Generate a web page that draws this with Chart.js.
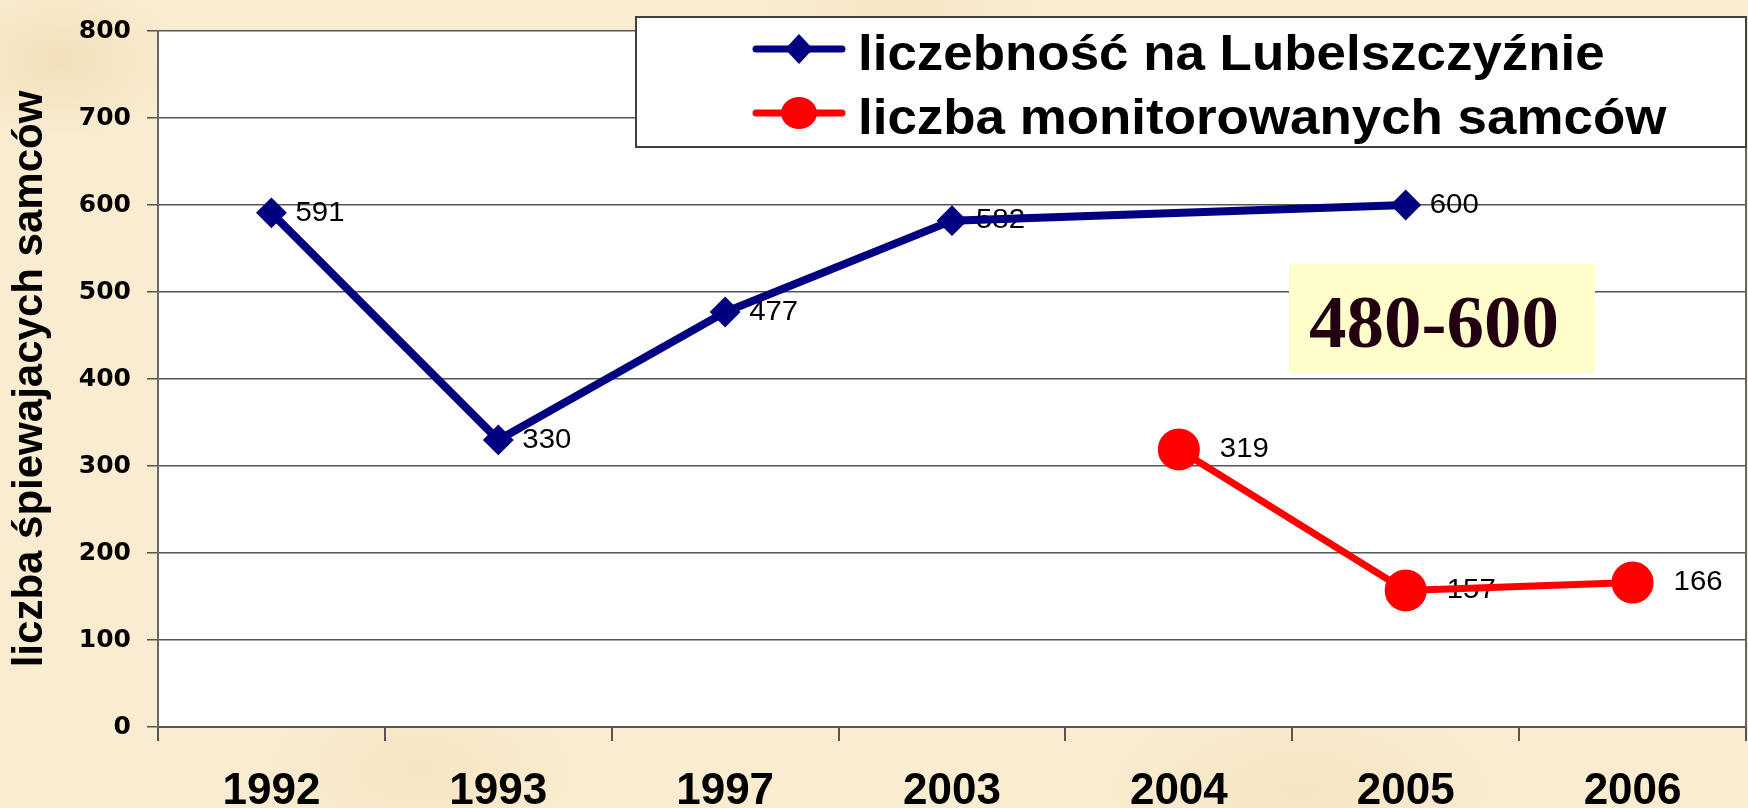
<!DOCTYPE html>
<html>
<head>
<meta charset="utf-8">
<script src="https://cdn.jsdelivr.net/npm/chart.js@4/dist/chart.umd.min.js"></script>
<style>
html, body { margin: 0; padding: 0; background: #F8EACC; }
#wrap { width: 1748px; height: 808px; position: relative;
  background:
    radial-gradient(ellipse 120px 80px at 60px 60px, rgba(236,214,168,0.55), rgba(236,214,168,0) 100%),
    radial-gradient(ellipse 160px 90px at 420px 770px, rgba(240,220,178,0.45), rgba(240,220,178,0) 100%),
    radial-gradient(ellipse 200px 100px at 1300px 790px, rgba(240,220,178,0.45), rgba(240,220,178,0) 100%),
    radial-gradient(ellipse 140px 90px at 900px 10px, rgba(240,220,178,0.4), rgba(240,220,178,0) 100%),
    #F9ECD0; }
canvas { display: block; }
</style>
</head>
<body>
<div id="wrap"><canvas id="c" width="1748" height="808"></canvas></div>
<script>
// ---- data ----
const categories = ['1992', '1993', '1997', '2003', '2004', '2005', '2006'];
const seriesLubelszczyzna = [591, 330, 477, 582, null, 600, null];
const seriesMonitored = [null, null, null, null, 319, 157, 166];
const seriesNames = ['liczebność na Lubelszczyźnie', 'liczba monitorowanych samców'];
const yTicks = [0, 100, 200, 300, 400, 500, 600, 700, 800];
const yTitle = 'liczba śpiewajacych samców';
const rangeNote = '480-600';

// ---- plugins ----
const plotBackground = {
  id: 'plotBackground',
  beforeDraw(chart) {
    const { ctx, chartArea: a } = chart;
    ctx.save();
    ctx.fillStyle = '#FFFFFF';
    ctx.fillRect(a.left, a.top, a.right - a.left, a.bottom - a.top);
    ctx.restore();
  }
};

const valueLabels = {
  id: 'valueLabels',
  beforeDatasetsDraw(chart) {
    const ctx = chart.ctx;
    ctx.save();
    ctx.font = '28px "Liberation Sans", Arial, sans-serif';
    ctx.fillStyle = '#000';
    ctx.textBaseline = 'middle';
    ctx.textAlign = 'left';
    chart.data.datasets.forEach((ds, i) => {
      const meta = chart.getDatasetMeta(i);
      meta.data.forEach((pt, j) => {
        const v = ds.data[j];
        if (v === null || v === undefined) return;
        ctx.save();
        ctx.translate(pt.x + ds.labelOffset, pt.y);
        ctx.scale(1.05, 1);
        ctx.fillText(String(v), 0, 0);
        ctx.restore();
      });
    });
    ctx.restore();
  }
};

const frameAndNotes = {
  id: 'frameAndNotes',
  afterDraw(chart) {
    const { ctx, chartArea: a } = chart;
    ctx.save();
    // right border of plot area
    ctx.strokeStyle = '#666';
    ctx.lineWidth = 2;
    ctx.beginPath();
    ctx.moveTo(a.right, a.top);
    ctx.lineTo(a.right, a.bottom);
    ctx.stroke();

    // range note box
    ctx.fillStyle = '#FFFFCC';
    ctx.fillRect(1289, 264, 306, 109);
    ctx.fillStyle = '#220011';
    ctx.font = 'bold 75px "Liberation Serif", "Times New Roman", serif';
    ctx.textBaseline = 'alphabetic';
    ctx.textAlign = 'left';
    ctx.fillText(rangeNote, 1309, 347);

    // legend box
    const L = 636, T = 17, R = a.right, B = 147;
    ctx.fillStyle = '#FFFFFF';
    ctx.fillRect(L, T, R - L, B - T);
    ctx.strokeStyle = '#404040';
    ctx.lineWidth = 2;
    ctx.strokeRect(L, T, R - L, B - T);

    chart.data.datasets.forEach((ds, i) => {
      const cy = 49 + i * 64;
      ctx.strokeStyle = ds.borderColor;
      ctx.lineWidth = 7;
      ctx.lineCap = 'round';
      ctx.beginPath();
      ctx.moveTo(756, cy);
      ctx.lineTo(842, cy);
      ctx.stroke();
      ctx.fillStyle = ds.borderColor;
      ctx.beginPath();
      if (ds.pointStyle === 'rectRot') {
        ctx.moveTo(799 - 14, cy);
        ctx.lineTo(799, cy - 15);
        ctx.lineTo(799 + 14, cy);
        ctx.lineTo(799, cy + 15);
        ctx.closePath();
      } else {
        ctx.ellipse(799, cy, 18, 16, 0, 0, Math.PI * 2);
      }
      ctx.fill();
      ctx.save();
      ctx.fillStyle = '#000';
      ctx.font = 'bold 50px "Liberation Sans", Arial, sans-serif';
      ctx.textBaseline = 'alphabetic';
      ctx.translate(858, cy + 21);
      ctx.scale(1.058, 1);
      ctx.fillText(ds.label, 0, 0);
      ctx.restore();
    });
    ctx.restore();
  }
};

// ---- chart ----
const ctx = document.getElementById('c').getContext('2d');
new Chart(ctx, {
  type: 'line',
  data: {
    labels: categories,
    datasets: [
      {
        label: seriesNames[0],
        data: seriesLubelszczyzna,
        borderColor: '#000080',
        backgroundColor: '#000080',
        borderWidth: 8,
        pointStyle: 'rectRot',
        pointRadius: 14,
        pointBorderWidth: 2,
        pointBackgroundColor: '#000080',
        pointBorderColor: '#000080',
        spanGaps: true,
        tension: 0,
        fill: false,
        labelOffset: 24
      },
      {
        label: seriesNames[1],
        data: seriesMonitored,
        borderColor: '#FF0000',
        backgroundColor: '#FF0000',
        borderWidth: 7,
        pointStyle: 'circle',
        pointRadius: 20,
        pointBorderWidth: 2,
        pointBackgroundColor: '#FF0000',
        pointBorderColor: '#FF0000',
        spanGaps: true,
        tension: 0,
        fill: false,
        labelOffset: 41
      }
    ]
  },
  options: {
    responsive: false,
    animation: false,
    devicePixelRatio: 1,
    layout: { autoPadding: false, padding: { left: 2, right: 2, top: 27, bottom: 0 } },
    plugins: {
      legend: { display: false },
      tooltip: { enabled: false }
    },
    scales: {
      x: {
        type: 'category',
        offset: true,
        grid: { offset: true, drawOnChartArea: false, tickLength: 14, color: '#555', lineWidth: 2 },
        border: { color: '#555', width: 2 },
        ticks: {
          font: { family: '"Liberation Sans", Arial, sans-serif', weight: 'bold', size: 44 },
          color: '#000',
          padding: 24,
          maxRotation: 0,
          autoSkip: false
        },
        afterFit(s) { s.height = 81; s.paddingLeft = 0; s.paddingRight = 0; }
      },
      y: {
        min: 0,
        max: 800,
        afterBuildTicks(s) { s.ticks = yTicks.map(v => ({ value: v })); },
        ticks: {
          font: { family: '"DejaVu Sans", sans-serif', weight: 'bold', size: 25 },
          color: '#000',
          padding: 16
        },
        grid: { color: '#555', lineWidth: 1.5, tickLength: 11 },
        border: { color: '#666', width: 2 },
        title: {
          display: true,
          text: yTitle,
          font: { family: '"Liberation Sans", Arial, sans-serif', weight: 'bold', size: 42 },
          color: '#000',
          padding: { top: 3, bottom: 0 }
        },
        afterFit(s) { s.width = 156; }
      }
    }
  },
  plugins: [plotBackground, valueLabels, frameAndNotes]
});
</script>
</body>
</html>
